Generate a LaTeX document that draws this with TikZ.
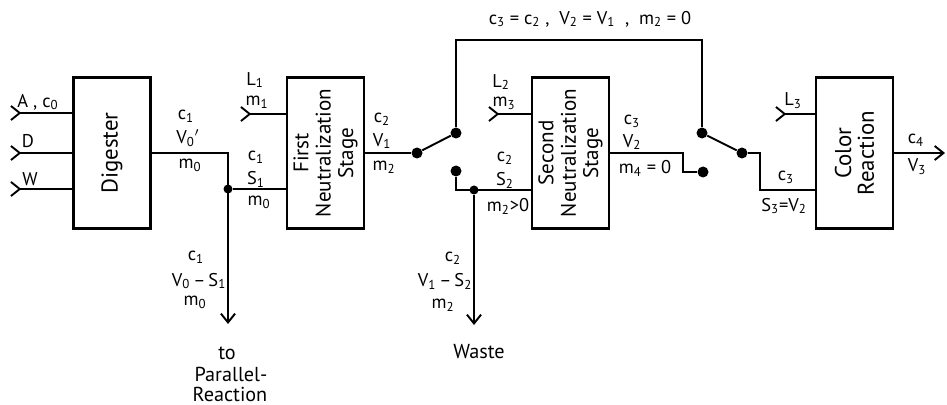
\documentclass[tikz,border=0pt]{standalone}
\usepackage{fontspec}
\setmainfont{PT Sans}
\usetikzlibrary{arrows.meta}
\tikzset{
  >={Straight Barb[length=5pt,width=8pt]},
  stagebox/.style={draw,line width=1.3pt,minimum width=3.02cm,minimum height=1.54cm,
    rotate=90,align=center,font=\fontsize{12}{12.7}\selectfont,inner sep=0pt},
  dot/.style={circle,fill,inner sep=0pt,minimum size=.22cm},
  joint/.style={circle,fill,inner sep=0pt,minimum size=.18cm},
  lab/.style={inner sep=0pt,font=\fontsize{10.5}{12}\selectfont},
  biglab/.style={lab,font=\fontsize{11.5}{12}\selectfont},
  line/.style={line width=1.1pt}
}
\newcommand{\dn}[1]{\textsubscript{#1}}
\begin{document}
\begin{tikzpicture}[x=.02cm,y=-.02cm]
  \useasboundingbox (0,0) rectangle (947,405);
  % boxes
  \node [stagebox,font=\fontsize{13}{15}\selectfont] (digester) at (112,153) {Digester};
  \node [stagebox] (first) at (325.5,153) {First\\Neutralization\\Stage};
  \node [stagebox] (second) at (570.5,153) {Second\\Neutralization\\Stage};
  \node [stagebox,font=\fontsize{13}{13}\selectfont] (color) at (854.5,153) {Color\\Reaction};
  % switches and joints
  \node [joint] (jointa) at (228,189) {};
  \node [joint] (jointb) at (474,190) {};
  \node [dot] (swa) at (417,153) {};
  \node [dot] (swb) at (456,133) {};
  \node [dot] (swc) at (456,171) {};
  \node [dot] (swd) at (702,133) {};
  \node [dot] (swe) at (742,153) {};
  \node [dot] (swf) at (703,172) {};
  % free ends
  \coordinate (ina) at (10,113);
  \coordinate (inb) at (10,153);
  \coordinate (inc) at (10,189);
  \coordinate (inl) at (240,114);
  \coordinate (inm) at (488,114);
  \coordinate (inn) at (775,114);
  \coordinate (outa) at (228,324);
  \coordinate (outb) at (474,325);
  \coordinate (outc) at (945,153);
  % inputs
  \draw [line,>-] (ina) -- (ina -| digester.north);
  \draw [line,>-] (inb) -- (inb -| digester.north);
  \draw [line,>-] (inc) -- (inc -| digester.north);
  \draw [line,>-] (inl) -- (inl -| first.north);
  \draw [line,>-] (inm) -- (inm -| second.north);
  \draw [line,>-] (inn) -- (inn -| color.north);
  % flow
  \draw [line,->] (digester.south) -- (228,153) -- (outa);
  \draw [line] (jointa) -- (jointa -| first.north);
  \draw [line] (first.south) -- (swa);
  \draw [line] (swa) -- (swb);
  \draw [line] (swb) -- (456,40) -- (702,40) -- (swd);
  \draw [line] (swd) -- (swe);
  \draw [line] (swe) -- (760,153) -- (760,190) -- (760,190 -| color.north);
  \draw [line] (swc) -- (456,190) -- (456,190 -| second.north);
  \draw [line,->] (jointb) -- (outb);
  \draw [line] (second.south) -- (683,153) -- (683,172) -- (swf);
  \draw [line,->] (color.south) -- (outc);
  % labels
  \node [lab] (la) at (38,102) {A , c\dn{0}};
  \node [lab] (lb) at (28,141) {D};
  \node [lab] (lc) at (30,179) {W};
  \node [lab] (ld) at (186,116) {c\dn{1}};
  \node [lab] (le) at (188,138) {V\dn{0}$'$};
  \node [lab] (lf) at (190,165) {m\dn{0}};
  \node [lab] (lg) at (255,80) {L\dn{1}};
  \node [lab] (lh) at (257,102) {m\dn{1}};
  \node [lab] (li) at (256,157) {c\dn{1}};
  \node [lab] (lj) at (256,179) {S\dn{1}};
  \node [lab] (lk) at (259,202) {m\dn{0}};
  \node [lab] (ll) at (382,119) {c\dn{2}};
  \node [lab] (lm) at (382,141) {V\dn{1}};
  \node [lab] (ln) at (384,167) {m\dn{2}};
  \node [lab] (lo) at (590,19) {c\dn{3} = c\dn{2} ,\ \ V\dn{2} = V\dn{1} \ , \ m\dn{2} = 0};
  \node [lab] (lp) at (501,82) {L\dn{2}};
  \node [lab] (lq) at (504,103) {m\dn{3}};
  \node [lab] (lr) at (505,158) {c\dn{2}};
  \node [lab] (ls) at (505,180) {S\dn{2}};
  \node [lab] (lt) at (508,206) {m\dn{2}>0};
  \node [lab] (lu) at (632,121) {c\dn{3}};
  \node [lab] (lv) at (632,142) {V\dn{2}};
  \node [lab] (lw) at (645,168) {m\dn{4} = 0};
  \node [lab] (lx) at (786,177) {c\dn{3}};
  \node [lab] (ly) at (784,206) {S\dn{3}=V\dn{2}};
  \node [lab] (lz) at (793,101) {L\dn{3}};
  \node [lab] (lca) at (916,140) {c\dn{4}};
  \node [lab] (lcb) at (917,167) {V\dn{3}};
  \node [lab] (lcc) at (196,257) {c\dn{1}};
  \node [lab] (lcd) at (199,281) {V\dn{0}\,--\,S\dn{1}};
  \node [lab] (lce) at (195,302) {m\dn{0}};
  \node [lab] (lcf) at (453,258) {c\dn{2}};
  \node [lab] (lcg) at (445,281) {V\dn{1}\,--\,S\dn{2}};
  \node [lab] (lch) at (443,305) {m\dn{2}};
  \node [biglab] (lci) at (227,353) {to};
  \node [biglab] (lcj) at (231,374) {Parallel-};
  \node [biglab] (lck) at (230,394) {Reaction};
  \node [biglab] (lcl) at (479,352) {Waste};
\end{tikzpicture}
\end{document}
